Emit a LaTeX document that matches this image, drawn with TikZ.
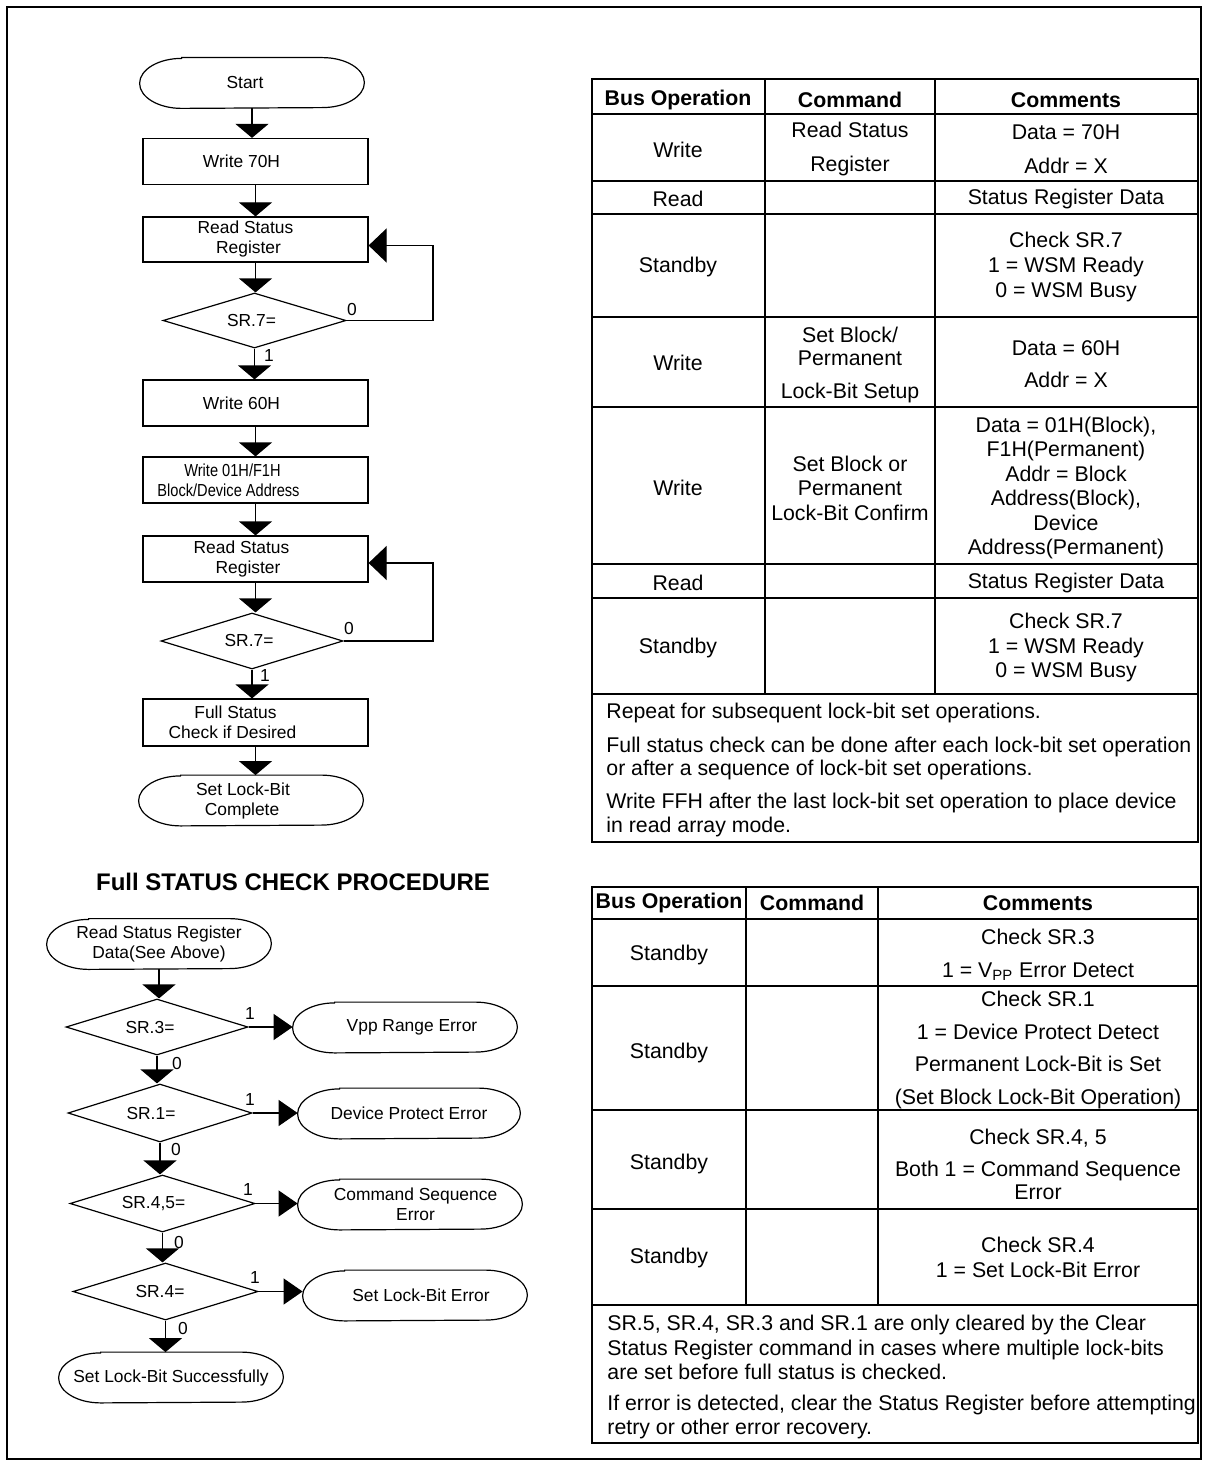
\documentclass[tikz,border=0pt]{standalone}
\usepackage{fontspec}
\setmainfont{Liberation Sans}
\usetikzlibrary{arrows.meta,shapes.geometric}
\newcommand\fl{\fontsize{8.7}{10}\selectfont}
\newcommand\tb{\fontsize{10.65}{12.5}\selectfont}
\newcommand\tblead[1]{\fontsize{10.65}{#1}\selectfont}
\newcommand\sh[1]{\hspace*{#1}}
% outline of a terminal box with elliptic ends
\newcommand\capsule[1]{\draw[flow] ([xshift=21pt]#1.north west) -- ([xshift=-21pt]#1.north east)
  arc[start angle=90,end angle=-90,x radius=21pt,y radius=12.5pt]
  -- ([xshift=21pt]#1.south west)
  arc[start angle=270,end angle=90,x radius=21pt,y radius=12.5pt] -- cycle;}
\begin{document}
\begin{tikzpicture}[x=0.5pt,y=-0.5pt,
  flow/.style={line width=0.6pt},
  proc/.style={draw, flow, rectangle, minimum width=112.5pt, minimum height=23pt, inner sep=0pt, font=\fl, align=center},
  term/.style={minimum height=25pt, minimum width=112pt, inner sep=0pt, font=\fl, align=center},
  cond/.style={draw, flow, diamond, aspect=3.3, inner sep=0pt, font=\fl},
  down/.style={flow, -{Triangle[width=16.5pt,length=7pt]}},
  side/.style={flow, -{Triangle[width=13pt,length=9.5pt]}},
  back/.style={flow, -{Triangle[width=17pt,length=9pt]}},
  lbl/.style={font=\fl, inner sep=0pt},
  grid/.style={line width=1pt},
  cell/.style={font=\tb, align=center, inner sep=0pt},
  head/.style={font=\tb\bfseries, inner sep=0pt},
  note/.style={font=\tb, align=left, inner sep=0pt, anchor=west},
]
\useasboundingbox (0,0) rectangle (1206,1466);
\fill[white] (0,0) rectangle (1206,1466);
\draw[line width=1pt] (7,7) rectangle (1201,1459);

% ---------- set lock-bit flowchart ----------
\node[term] (start) at (252,83) {\sh{-7pt}Start};
\capsule{start}
\node[proc] (w70) at (255.5,161.5) {\sh{-14pt}Write 70H};
\node[proc, minimum height=22.5pt] (rs1) at (255.5,239.5) {\sh{-10pt}Read Status\\\sh{-7pt}Register};
\node[cond, minimum width=91.5pt, minimum height=27.5pt] (d1) at (254.5,320.5) {\sh{-3pt}SR.7=};
\node[proc] (w60) at (255.5,403) {\sh{-14pt}Write 60H};
\node[proc] (w01) at (255.5,480) {\sh{-23pt}\scalebox{0.84}[1]{Write 01H/F1H}\\\sh{-27pt}\scalebox{0.84}[1]{Block/Device Address}};
\node[proc] (rs2) at (255.5,559) {\sh{-14pt}Read Status\\\sh{-7.5pt}Register};
\node[cond, minimum width=91pt, minimum height=28pt] (d2) at (252,641) {\sh{-3pt}SR.7=};
\node[proc, minimum height=23.5pt] (fsc) at (255.5,722.5) {\sh{-20pt}Full Status\\\sh{-23pt}Check if Desired};
\node[term] (done) at (251,800.5) {\sh{-8pt}Set Lock-Bit\\\sh{-9pt}Complete};
\capsule{done}

\draw[down] (start.south) -- (start.south |- w70.north);
\draw[down] (w70.south) -- (w70.south |- rs1.north);
\draw[down] (rs1.south) -- (rs1.south |- d1.north);
\draw[down] (d1.south) -- (d1.south |- w60.north);
\draw[down] (w60.south) -- (w60.south |- w01.north);
\draw[down] (w01.south) -- (w01.south |- rs2.north);
\draw[down] (rs2.south) -- (rs2.south |- d2.north);
\draw[down] (d2.south) -- (d2.south |- fsc.north);
\draw[down] (fsc.south) -- (fsc.south |- done.north);

\coordinate (lp) at (433,0);
\draw[back] (d1.east) -- (d1.east -| lp) |- ([yshift=-3pt]rs1.east);
\draw[back] (d2.east) -- (d2.east -| lp) |- ([yshift=-2pt]rs2.east);

\node[lbl] (d1no) at (352,310) {0};
\node[lbl] (d1yes) at (269,356) {1};
\node[lbl] (d2no) at (349,629) {0};
\node[lbl] (d2yes) at (265,676) {1};

% ---------- full status check flowchart ----------
\node[font=\fontsize{12}{14}\selectfont\bfseries, inner sep=0pt] (fsttl) at (293,882) {Full STATUS CHECK PROCEDURE};
\node[term] (rsd) at (159,944) {Read Status Register\\Data(See Above)};
\capsule{rsd}
\node[cond, minimum width=91pt, minimum height=28pt] (c3) at (157,1027) {\sh{-7pt}SR.3=};
\node[cond, minimum width=92pt, minimum height=29pt] (c1) at (160,1113) {\sh{-9pt}SR.1=};
\node[cond, minimum width=92.5pt, minimum height=28.5pt] (c45) at (162.5,1203.5) {\sh{-9pt}SR.4,5=};
\node[cond, minimum width=92.5pt, minimum height=28.5pt] (c4) at (165.5,1291.5) {\sh{-5.5pt}SR.4=};
\node[term] (e3) at (405,1027.5) {\sh{7pt}Vpp Range Error};
\capsule{e3}
\node[term, minimum width=111pt] (e1) at (409,1113.5) {Device Protect Error};
\capsule{e1}
\node[term] (e45) at (410,1204.5) {\sh{5.5pt}Command Sequence\\\sh{5.5pt}Error};
\capsule{e45}
\node[term] (e4) at (415,1295.5) {\sh{6pt}Set Lock-Bit Error};
\capsule{e4}
\node[term] (ok) at (171,1377.5) {Set Lock-Bit Successfully};
\capsule{ok}

\draw[down] (rsd.south) -- (rsd.south |- c3.north);
\draw[down] (c3.south) -- (c3.south |- c1.north);
\draw[down] (c1.south) -- (c1.south |- c45.north);
\draw[down] (c45.south) -- (c45.south |- c4.north);
\draw[down] (c4.south) -- (c4.south |- ok.north);
\draw[side] (c3.east) -- (c3.east -| e3.west);
\draw[side] (c1.east) -- (c1.east -| e1.west);
\draw[side] (c45.east) -- (c45.east -| e45.west);
\draw[side] (c4.east) -- (c4.east -| e4.west);

\node[lbl] (c3yes) at (250,1014) {1};
\node[lbl] (c3no) at (177,1063) {0};
\node[lbl] (c1yes) at (250,1100) {1};
\node[lbl] (c1no) at (176,1149) {0};
\node[lbl] (c45yes) at (248,1190) {1};
\node[lbl] (c45no) at (179,1242) {0};
\node[lbl] (c4yes) at (255,1278) {1};
\node[lbl] (c4no) at (183,1328) {0};

% ---------- bus operation table: lock-bit set ----------
\draw[grid] (592,79) rectangle (1198,842);
\foreach \y in {114,181,214,317,407,564,598,694} \draw[grid] (592,\y) -- (1198,\y);
\foreach \x in {765,935} \draw[grid] (\x,79) -- (\x,694);

\node[head] (ta0) at (678,100) {Bus Operation};
\node[head] (tb0) at (850,100) {Command};
\node[head] (tc0) at (1066,100) {Comments};

\node[cell] (ta1) at (678,150) {Write};
\node[cell, font=\tblead{17}] (tb1) at (850,149) {Read Status\\Register};
\node[cell, font=\tblead{17}] (tc1) at (1066,149) {Data = 70H\\Addr = X};

\node[cell] (ta2) at (678,199) {Read};
\node[cell] (tc2) at (1066,199) {Status Register Data};

\node[cell] (ta3) at (678,267) {Standby};
\node[cell] (tc3) at (1066,267) {Check SR.7\\1 = WSM Ready\\0 = WSM Busy};

\node[cell] (ta4) at (678,363) {Write};
\node[cell, font=\tblead{11.5}] (tb4) at (850,365) {Set Block/\\Permanent\\[5pt]Lock-Bit Setup};
\node[cell, font=\tblead{16}] (tc4) at (1066,364) {Data = 60H\\Addr = X};

\node[cell] (ta5) at (678,488) {Write};
\node[cell, font=\tblead{12.25}] (tb5) at (850,488) {Set Block or\\Permanent\\Lock-Bit Confirm};
\node[cell, font=\tblead{12.2}] (tc5) at (1066,488) {Data = 01H(Block),\\F1H(Permanent)\\Addr = Block\\Address(Block),\\Device\\Address(Permanent)};

\node[cell] (ta6) at (678,583) {Read};
\node[cell] (tc6) at (1066,583) {Status Register Data};

\node[cell] (ta7) at (678,648) {Standby};
\node[cell, font=\tblead{12.25}] (tc7) at (1066,647.5) {Check SR.7\\1 = WSM Ready\\0 = WSM Busy};

\node[note] (tn1) at (606,713) {Repeat for subsequent lock-bit set operations.};
\node[note, font=\tblead{11.5}] (tn2) at (606,758.5) {Full status check can be done after each lock-bit set operation\\or after a sequence of lock-bit set operations.};
\node[note, font=\tblead{12}] (tn3) at (606,815) {Write FFH after the last lock-bit set operation to place device\\in read array mode.};

% ---------- bus operation table: full status check ----------
\draw[grid] (592,887) rectangle (1198,1443);
\foreach \y in {919,986,1110,1209,1305} \draw[grid] (592,\y) -- (1198,\y);
\foreach \x in {746,878} \draw[grid] (\x,887) -- (\x,1305);

\node[head] (ua0) at (669,903) {Bus Operation};
\node[head] (ub0) at (812,903) {Command};
\node[head] (uc0) at (1038,903) {Comments};

\node[cell] (ua1) at (669,955) {Standby};
\node[cell, font=\tblead{16.5}] (uc1) at (1038,955) {Check SR.3\\1 = V\textsubscript{PP} Error Detect};

\node[cell] (ua2) at (669,1053) {Standby};
\node[cell, font=\tblead{16.25}] (uc2) at (1038,1050) {Check SR.1\\1 = Device Protect Detect\\Permanent Lock-Bit is Set\\(Set Block Lock-Bit Operation)};

\node[cell] (ua3) at (669,1164) {Standby};
\node[cell, font=\tblead{11.5}] (uc3) at (1038,1164.5) {Check SR.4, 5\\[4.5pt]Both 1 = Command Sequence\\Error};

\node[cell] (ua4) at (669,1258) {Standby};
\node[cell] (uc4) at (1038,1257.5) {Check SR.4\\1 = Set Lock-Bit Error};

\node[note, font=\tblead{12.25}] (un1) at (607,1347.5) {SR.5, SR.4, SR.3 and SR.1 are only cleared by the Clear\\Status Register command in cases where multiple lock-bits\\are set before full status is checked.};
\node[note, font=\tblead{12}] (un2) at (607,1417) {If error is detected, clear the Status Register before attempting\\retry or other error recovery.};
\end{tikzpicture}
\end{document}
